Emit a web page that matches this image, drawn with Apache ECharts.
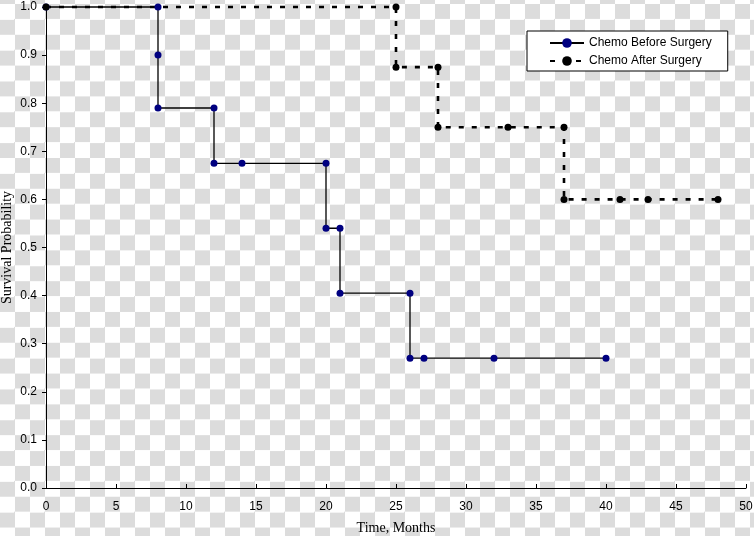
<!DOCTYPE html>
<html>
<head>
<meta charset="utf-8">
<script src="https://cdn.jsdelivr.net/npm/echarts@6/dist/echarts.min.js"></script>
<style>
  html, body { margin: 0; padding: 0; }
  body {
    width: 754px; height: 536px;
    background: repeating-conic-gradient(#dcdcdc 0 25%, #ffffff 0 50%) 0 4px / 30px 30.8px;
  }
  #main { width: 754px; height: 536px; }
</style>
</head>
<body>
<div id="main"></div>
<script>
// Kaplan-Meier style survival curves (months, probability)
var beforeMonths = [0, 8, 8, 8, 12, 12, 14, 20, 20, 21, 21, 26, 26, 27, 32, 40];
var beforeSurv   = [1.0, 1.0, 0.9, 0.79, 0.79, 0.675, 0.675, 0.675, 0.54, 0.54, 0.405, 0.405, 0.27, 0.27, 0.27, 0.27];
var afterMonths  = [0, 25, 25, 28, 28, 33, 37, 37, 41, 43, 48];
var afterSurv    = [1.0, 1.0, 0.875, 0.875, 0.75, 0.75, 0.75, 0.6, 0.6, 0.6, 0.6];
var xTicks = [0, 50, 5];   // min, max, step
var yTicks = [0, 1, 0.1];

function pairs(xs, ys) {
  return xs.map(function (x, i) { return [x, ys[i]]; });
}

var myChart = echarts.init(document.getElementById('main'));

var option = {
  animation: false,
  grid: { left: 46, right: 8, top: 7, bottom: 48, outerBoundsMode: 'none', containLabel: false },
  legend: {
    orient: 'vertical',
    left: 527,
    top: 31,
    padding: [6, 16, 4, 22],
    itemGap: 6,
    itemWidth: 34,
    itemHeight: 12,
    backgroundColor: '#ffffff',
    borderColor: '#000',
    borderWidth: 1,
    borderRadius: 0,
    textStyle: { fontFamily: 'Liberation Sans', fontSize: 12, color: '#000' },
    data: ['Chemo Before Surgery', 'Chemo After Surgery']
  },
  xAxis: {
    type: 'value',
    min: xTicks[0], max: xTicks[1], interval: xTicks[2],
    name: 'Time, Months',
    nameLocation: 'middle',
    nameGap: 33,
    nameTextStyle: { fontFamily: 'Liberation Serif', fontSize: 14, color: '#000' },
    axisLine: { show: true, lineStyle: { color: '#000', width: 1 } },
    axisTick: { show: true, inside: true, length: 4, lineStyle: { color: '#000' } },
    axisLabel: { margin: 13, fontFamily: 'Liberation Sans', fontSize: 12, color: '#000' },
    splitLine: { show: false }
  },
  yAxis: {
    type: 'value',
    min: yTicks[0], max: yTicks[1], interval: yTicks[2],
    name: 'Survival Probability',
    nameLocation: 'middle',
    nameGap: 32,
    nameMoveOverlap: false,
    nameTextStyle: { fontFamily: 'Liberation Serif', fontSize: 14, color: '#000' },
    axisLine: { show: true, lineStyle: { color: '#000', width: 1 } },
    axisTick: { show: true, length: 4, lineStyle: { color: '#000' } },
    axisLabel: {
      margin: 9, fontFamily: 'Liberation Sans', fontSize: 12, color: '#000',
      formatter: function (v) { return v.toFixed(1); }
    },
    splitLine: { show: false }
  },
  series: [
    {
      name: 'Chemo Before Surgery',
      type: 'line',
      clip: false,
      data: pairs(beforeMonths, beforeSurv),
      symbol: 'circle',
      symbolSize: 7,
      itemStyle: { color: '#000080' },
      lineStyle: { color: '#000', width: 1.3 }
    },
    {
      name: 'Chemo After Surgery',
      type: 'line',
      clip: false,
      data: pairs(afterMonths, afterSurv),
      symbol: 'circle',
      symbolSize: 7,
      itemStyle: { color: '#000' },
      lineStyle: { color: '#000', width: 2.6, type: [5, 8] }
    }
  ]
};

myChart.setOption(option);
</script>
</body>
</html>
